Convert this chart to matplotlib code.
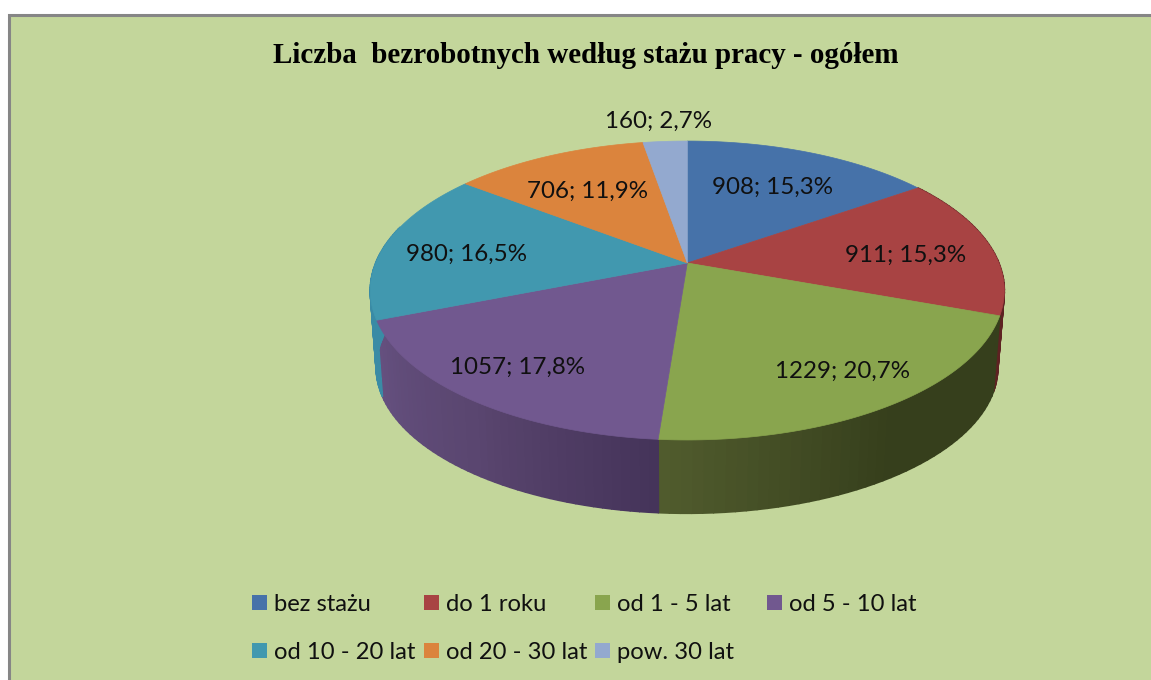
import numpy as np
import matplotlib
matplotlib.use('Agg')
import matplotlib.pyplot as plt
from matplotlib.collections import PolyCollection
from matplotlib.colors import LinearSegmentedColormap
from matplotlib.patches import Rectangle

categories = ['bez stażu', 'do 1 roku', 'od 1 - 5 lat', 'od 5 - 10 lat',
              'od 10 - 20 lat', 'od 20 - 30 lat', 'pow. 30 lat']
values = [908, 911, 1229, 1057, 980, 706, 160]
colors = ['#4672a9', '#a84343', '#89a54e', '#71588f', '#4198af', '#db843d', '#93a9cf']
title = 'Liczba  bezrobotnych według stażu pracy - ogółem'

# kolory boku (od lewej do prawej strony ekranu)
wall_colors = {
    1: ['#5e2222', '#5e2222'],
    2: ['#363f1c', '#363f1c', '#505b2d'],
    3: ['#45345a', '#5a4670', '#65507f'],
    4: ['#3a8ba5', '#3a8ba5'],
}
label_pos = [(773, 186), (906, 254), (843, 370), (518, 366), (467, 253), (588, 190), (659, 120)]

BG = '#c3d69b'
K = 0.184  # perspektywa


def project(theta, cx, cy, rx, ry):
    u, v = np.sin(theta), np.cos(theta)
    d = 1 + K * v
    return cx + rx * u / d, cy - ry * v / d


def top_rim(theta):
    return project(theta, 687.3, 263, 311.6, 144.4)


def bottom_rim(theta):
    return project(theta, 687.0, 340.5, 305.5, 141.0)


fig = plt.figure(figsize=(11.51, 6.80), dpi=100, facecolor='white')
ax = fig.add_axes([0, 0, 1, 1])
ax.set_xlim(0, 1151)
ax.set_ylim(680, 0)
ax.axis('off')

# tlo i ramka
ax.add_patch(Rectangle((9.5, 14.5), 1150, 680, facecolor=BG, edgecolor='#868686', linewidth=2.2, zorder=0))

total = sum(values)
edges = np.concatenate([[0], np.cumsum(values)]) / total * 2 * np.pi

# bok tortu
for i in wall_colors:
    start, stop = edges[i], edges[i + 1]
    if i == 4:
        stop = min(stop, np.radians(285))
    t = np.linspace(start, stop, 45)
    xt, yt = top_rim(t)
    xb, yb = bottom_rim(t)
    quads = [[(xt[j], yt[j]), (xt[j + 1], yt[j + 1]), (xb[j + 1], yb[j + 1]), (xb[j], yb[j])]
             for j in range(len(t) - 1)]
    cmap = LinearSegmentedColormap.from_list('wall', wall_colors[i])
    shade = cmap(np.linspace(0, 1, len(quads)))
    ax.add_collection(PolyCollection(quads, facecolors=shade, edgecolors=shade, linewidths=1.2, zorder=2))

# wierzch tortu
for i, color in enumerate(colors):
    t = np.linspace(edges[i], edges[i + 1], 120)
    x, y = top_rim(t)
    ax.fill(np.r_[687.3, x], np.r_[263, y], facecolor=color, edgecolor=color, linewidth=0.5, zorder=3)

# etykiety
for value, (lx, ly) in zip(values, label_pos):
    pct = f'{value / total * 100:.1f}'.replace('.', ',')
    ax.text(lx, ly + 1.5, f'{value}; {pct}%', fontsize=17.4, family='Lato', color='#101010',
            ha='center', va='center', zorder=5)

ax.text(586, 55.5, title, fontsize=20.9, family='Liberation Serif', fontweight='bold',
        color='black', ha='center', va='center', zorder=5)

# legenda
for i, (name, color) in enumerate(zip(categories, colors)):
    row, col = divmod(i, 4)
    x0 = 252 + col * 171.7
    y0 = 603 + row * 48
    ax.add_patch(Rectangle((x0, y0 - 8), 15, 15, facecolor=color, edgecolor='none', zorder=5))
    ax.text(x0 + 22, y0 + 1.5, name, fontsize=17.1, family='Lato', color='#101010',
            ha='left', va='center', zorder=5)

plt.savefig('out.png', dpi=100)
